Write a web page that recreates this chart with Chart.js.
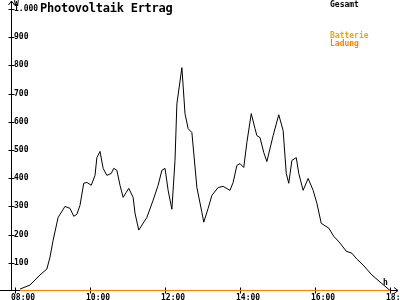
<!DOCTYPE html>
<html>
<head>
<meta charset="utf-8">
<script src="https://cdn.jsdelivr.net/npm/chart.js@4/dist/chart.umd.min.js"></script>
<style>
body { margin: 0; background: #fff; }
#wrap { position: relative; width: 400px; height: 300px; }
.t { position: absolute; font-family: "DejaVu Sans Mono", monospace; font-size: 8px; font-weight: bold; line-height: 1; white-space: nowrap; }
</style>
</head>
<body>
<div id="wrap">
    <canvas id="chart" width="400" height="300"></canvas>
    <div class="t" style="left:40px;top:2px;font-size:12px;letter-spacing:-0.25px">Photovoltaik Ertrag</div>
    <div class="t" style="left:14px;top:0px">W</div>
    <div class="t" style="left:383px;top:279px">h</div>
    <div class="t" style="left:330px;top:1px;color:#000">Gesamt</div>
    <div class="t" style="left:330px;top:32px;color:#f5a400">Batterie</div>
    <div class="t" style="left:330px;top:40px;color:#ff8400">Ladung</div>
</div>
<script>
// ---------------- DATA ----------------
const times = [
    "08:08","08:24","08:40","08:51","08:56","09:01","09:09","09:20","09:28","09:34",
    "09:39","09:44","09:50","09:55","10:02","10:08","10:11","10:16","10:21","10:27",
    "10:34","10:38","10:43","10:48","10:53","10:58","11:02","11:09","11:12","11:18",
    "11:31","11:41","11:49","11:55","12:00","12:05","12:11","12:16","12:19","12:27",
    "12:32","12:37","12:43","12:51","12:59","13:02","13:09","13:15","13:25","13:33",
    "13:44","13:49","13:55","14:00","14:06","14:11","14:18","14:24","14:27","14:32",
    "14:38","14:43","14:53","15:02","15:09","15:14","15:18","15:23","15:30","15:34",
    "15:41","15:49","15:57","16:03","16:10","16:22","16:30","16:40","16:50","16:59",
    "17:07","17:17","17:31","17:44","18:00"
];
const gesamt = [
    7, 21, 57, 78, 120, 180, 261, 300, 293, 265,
    272, 304, 382, 385, 375, 410, 473, 495, 435, 410,
    417, 435, 428, 375, 332, 350, 364, 332, 276, 216,
    261, 322, 375, 428, 435, 357, 290, 463, 664, 792,
    629, 576, 562, 367, 279, 244, 293, 339, 367, 371,
    357, 385, 445, 452, 438, 527, 629, 576, 551, 544,
    491, 459, 551, 625, 569, 417, 382, 463, 473, 417,
    357, 399, 357, 311, 240, 223, 194, 170, 141, 134,
    113, 92, 57, 32, 2
];
const batterieLadung = times.map(() => 0);
const xTickLabels = ["08:00", "10:00", "12:00", "14:00", "16:00", "18:00"];
const yTicks = [100, 200, 300, 400, 500, 600, 700, 800, 900, 1000];

// minutes since 08:00
function toMin(s) {
    let [h, m] = s.split(":").map(Number);
    return (h - 8) * 60 + m;
}
function toClock(v) {
    let h = 8 + Math.floor(v / 60), m = v % 60;
    return String(h).padStart(2, "0") + ":" + String(m).padStart(2, "0");
}
function fmtW(v) {
    return v >= 1000 ? Math.floor(v / 1000) + "." + String(v % 1000).padStart(3, "0") : String(v);
}

const font = { family: "DejaVu Sans Mono", size: 8, weight: "bold" };

// ---------------- AXES WITH ARROWS ----------------
const axesPlugin = {
    id: "axes",
    beforeDatasetsDraw(chart) {
        const ctx = chart.ctx, xs = chart.scales.x, ys = chart.scales.y;
        const ax = Math.round(xs.left) + 0.5;
        const ay = Math.round(ys.getPixelForValue(0)) - 0.5;
        ctx.save();
        ctx.strokeStyle = "#000";
        ctx.lineWidth = 1;
        ctx.beginPath();
        // y axis + arrow
        ctx.moveTo(ax, ay); ctx.lineTo(ax, 1);
        ctx.moveTo(ax - 3, 5); ctx.lineTo(ax, 1); ctx.lineTo(ax + 3, 5);
        // x axis + arrow
        ctx.moveTo(0, ay); ctx.lineTo(398, ay);
        ctx.moveTo(394, ay - 3); ctx.lineTo(398, ay); ctx.lineTo(394, ay + 3);
        // tick crosses
        xs.ticks.forEach(t => {
            let px = Math.round(xs.getPixelForValue(t.value)) + 0.5;
            ctx.moveTo(px, ay - 3); ctx.lineTo(px, ay + 3);
        });
        ys.ticks.forEach(t => {
            let py = Math.round(ys.getPixelForValue(t.value)) + 0.5;
            ctx.moveTo(ax - 3, py); ctx.lineTo(ax + 3, py);
        });
        ctx.stroke();
        ctx.restore();
    }
};

// ---------------- DRAW CHART ----------------
new Chart(document.getElementById("chart"), {
    type: "line",
    data: {
        datasets: [
            {
                label: "Batterie Ladung",
                data: times.map((t, i) => ({ x: toMin(t), y: batterieLadung[i] })),
                borderColor: "#ff8000",
                borderWidth: 2,
                pointRadius: 0
            },
            {
                label: "Gesamt",
                data: times.map((t, i) => ({ x: toMin(t), y: gesamt[i] })),
                borderColor: "#000",
                borderWidth: 1,
                pointRadius: 0
            }
        ]
    },
    options: {
        responsive: false,
        animation: false,
        devicePixelRatio: 1,
        layout: { padding: { left: 0, right: 2, top: 9, bottom: 0 } },
        plugins: { legend: { display: false }, tooltip: { enabled: false } },
        scales: {
            x: {
                type: "linear",
                min: -6.4,
                max: 612.8,
                grid: { display: false, drawTicks: false },
                border: { display: false },
                afterFit: s => { s.height = 9; s.paddingLeft = 0; s.paddingRight = 0; },
                afterBuildTicks: s => { s.ticks = xTickLabels.map(l => ({ value: toMin(l) })); },
                ticks: {
                    font: font,
                    color: "#000",
                    padding: 2,
                    align: "start",
                    labelOffset: -4,
                    maxRotation: 0,
                    autoSkip: false,
                    callback: v => toClock(v)
                }
            },
            y: {
                min: 0,
                max: 1000,
                grid: { display: false, drawTicks: false },
                border: { display: false },
                afterFit: s => { s.width = 11; s.paddingTop = 0; s.paddingBottom = 0; },
                afterBuildTicks: s => { s.ticks = yTicks.map(v => ({ value: v })); },
                ticks: {
                    font: font,
                    color: "#000",
                    mirror: true,
                    padding: 3,
                    autoSkip: false,
                    // top label sits a bit lower, under the unit
                    labelOffset: c => (c.tick && c.tick.value === 1000 ? 3 : 0),
                    callback: v => fmtW(v)
                }
            }
        }
    },
    plugins: [axesPlugin]
});
</script>
</body>
</html>
